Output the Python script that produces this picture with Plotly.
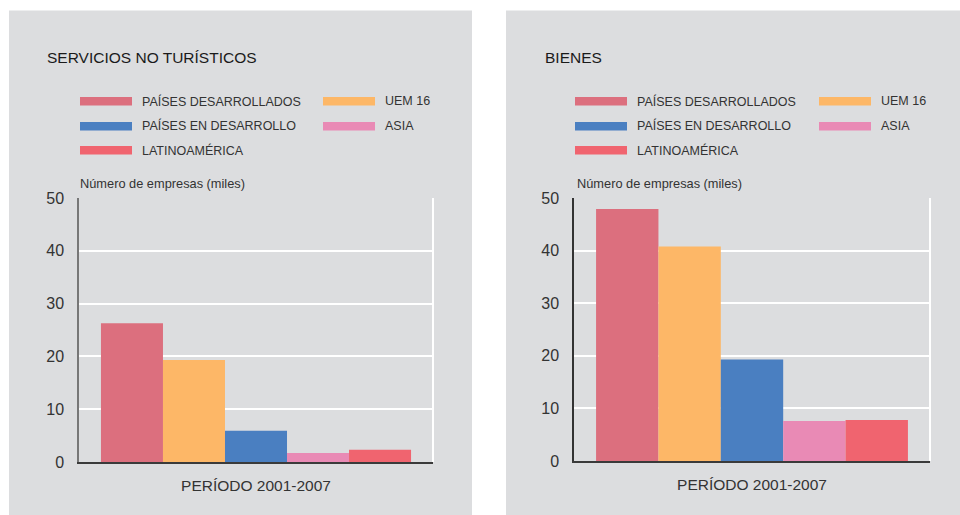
import plotly.graph_objects as go

W, H = 960, 515

series = ["PAÍSES DESARROLLADOS", "UEM 16", "PAÍSES EN DESARROLLO", "ASIA", "LATINOAMÉRICA"]
colors = ["#dc6f7e", "#fdb767", "#4a7fc1", "#e98ab5", "#f0646f"]
category = ["PERÍODO 2001-2007"]
servicios = [26.3, 19.3, 5.9, 1.7, 2.3]
bienes = [47.9, 40.8, 19.3, 7.6, 7.8]
titles = ["SERVICIOS NO TURÍSTICOS", "BIENES"]
ylabel = "Número de empresas (miles)"
yticks = [0, 10, 20, 30, 40, 50]

FONT = "Liberation Sans, Arial, sans-serif"
GRAY = "#dcdddf"
TXT = "#333333"

def px(x):
    return x / W

def py(y):
    return 1 - y / H

fig = go.Figure()

for i, (name, col) in enumerate(zip(series, colors)):
    fig.add_trace(go.Bar(x=category, y=[servicios[i]], name=name, marker=dict(color=col, line=dict(width=0)),
                         xaxis="x", yaxis="y", showlegend=False))
for i, (name, col) in enumerate(zip(series, colors)):
    fig.add_trace(go.Bar(x=category, y=[bienes[i]], name=name, marker=dict(color=col, line=dict(width=0)),
                         xaxis="x2", yaxis="y2", showlegend=False))

panels = [
    dict(x0=9, x1=472, ax_l=79, ax_r=433, y_top=198, y_bot=462, title_x=45, sw1=80, sw2=323, ylabel_x=78, yaxcol="#777777"),
    dict(x0=506, x1=960, ax_l=574, ax_r=930, y_top=198, y_bot=461, title_x=543, sw1=575, sw2=819, ylabel_x=575, yaxcol="#333333"),
]

shapes = []
annotations = []
layout_axes = {}
for k, p in enumerate(panels):
    shapes.append(dict(type="rect", xref="paper", yref="paper", x0=px(p["x0"]), x1=px(p["x1"]),
                       y0=py(515), y1=py(10.5), fillcolor=GRAY, line=dict(width=0), layer="below"))
    sfx = "" if k == 0 else "2"
    xa = "xaxis" + sfx
    ya = "yaxis" + sfx
    layout_axes[xa] = dict(domain=[px(p["ax_l"]), px(p["ax_r"])], anchor="y" + sfx,
                           showline=True, linecolor="#3a3a3a", linewidth=1.5,
                           ticks="outside", ticklen=9, tickcolor="rgba(0,0,0,0)", automargin=False,
                           tickfont=dict(family=FONT, size=15.5, color=TXT), showgrid=False)
    layout_axes[ya] = dict(domain=[py(p["y_bot"]), py(p["y_top"])], anchor="x" + sfx, range=[0, 50],
                           tickvals=yticks, showline=True, linecolor=p["yaxcol"], linewidth=1.5,
                           showgrid=True, gridcolor="white", gridwidth=1.5, zeroline=False,
                           ticks="outside", ticklen=10, tickcolor="rgba(0,0,0,0)", automargin=False,
                           tickfont=dict(family=FONT, size=16, color=TXT))
    # right white border of plot area
    shapes.append(dict(type="line", xref="x" + sfx + " domain", yref="y" + sfx + " domain",
                       x0=1, x1=1, y0=0, y1=1, line=dict(color="white", width=2)))
    # title
    annotations.append(dict(text=titles[k], xref="paper", yref="paper", x=px(p["title_x"]), y=py(57),
                            xanchor="left", yanchor="middle", showarrow=False,
                            font=dict(family=FONT, size=15.5, color="#1a1a1a")))
    # y label
    annotations.append(dict(text=ylabel, xref="paper", yref="paper", x=px(p["ylabel_x"]), y=py(183),
                            xanchor="left", yanchor="middle", showarrow=False,
                            font=dict(family=FONT, size=12.8, color=TXT)))
    # legend
    rows = [101, 126, 150]
    pos = [(p["sw1"], rows[0]), (p["sw2"], rows[0]), (p["sw1"], rows[1]), (p["sw2"], rows[1]), (p["sw1"], rows[2])]
    for (sx, sy), name, col in zip(pos, series, colors):
        shapes.append(dict(type="rect", xref="paper", yref="paper", x0=px(sx), x1=px(sx + 52),
                           y0=py(sy + 4.5), y1=py(sy - 4), fillcolor=col, line=dict(width=0)))
        annotations.append(dict(text=name, xref="paper", yref="paper", x=px(sx + 60), y=py(sy),
                                xanchor="left", yanchor="middle", showarrow=False,
                                font=dict(family=FONT, size=12.5, color=TXT)))

fig.update_layout(
    width=W, height=H, margin=dict(l=0, r=0, t=0, b=0, autoexpand=False),
    paper_bgcolor="white", plot_bgcolor=GRAY,
    barmode="group", bargap=0.124, bargroupgap=0,
    shapes=shapes, annotations=annotations, showlegend=False,
    font=dict(family=FONT, color=TXT),
    **layout_axes,
)

fig.write_html("out.html")
